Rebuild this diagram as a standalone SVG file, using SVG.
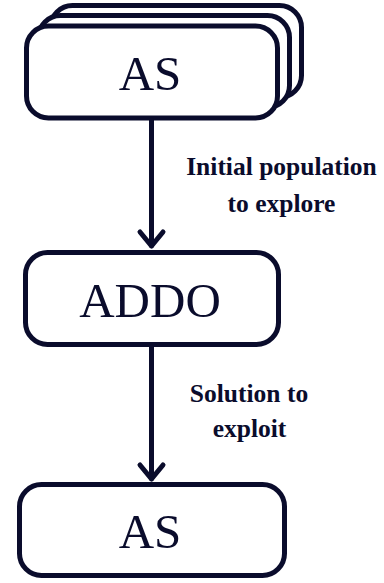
<svg xmlns="http://www.w3.org/2000/svg" width="384" height="583" viewBox="0 0 384 583">
<style>
.box{fill:#fff;stroke:#0a0c2c;stroke-width:5}
.big{font-family:"Liberation Serif",serif;font-size:49px;fill:#0a0c2c;text-anchor:middle}
.lbl{font-family:"Liberation Serif",serif;font-weight:bold;font-size:25.5px;fill:#0a0c2c;text-anchor:middle}
.conn{stroke:#0a0c2c;stroke-width:5;fill:none;stroke-linecap:round;stroke-linejoin:round}
</style>
<rect width="384" height="583" fill="#fff"/>
<g id="as-top">
<rect class="box" x="50.5" y="5.5" width="251" height="92" rx="22"/>
<rect class="box" x="38.5" y="15.5" width="251" height="92" rx="22"/>
<rect class="box" x="26.5" y="26" width="251" height="92" rx="22"/>
<text class="big" x="150" y="90">AS</text>
</g>
<g id="addo">
<rect class="box" x="25.5" y="252.5" width="253" height="92" rx="22"/>
<text class="big" x="150" y="317">ADDO</text>
</g>
<g id="as-bottom">
<rect class="box" x="19.5" y="484.5" width="265" height="91" rx="22"/>
<text class="big" x="150" y="548">AS</text>
</g>
<g id="connectors">
<path class="conn" d="M151.5 120 V246 M140 232 L151.5 246 L163 232"/>
<path class="conn" d="M151.5 347 V479 M140 465 L151.5 479 L163 465"/>
<text class="lbl" x="281.5" y="175">Initial population</text>
<text class="lbl" x="281.5" y="212">to explore</text>
<text class="lbl" x="249" y="402">Solution to</text>
<text class="lbl" x="249.5" y="437">exploit</text>
</g>
</svg>
